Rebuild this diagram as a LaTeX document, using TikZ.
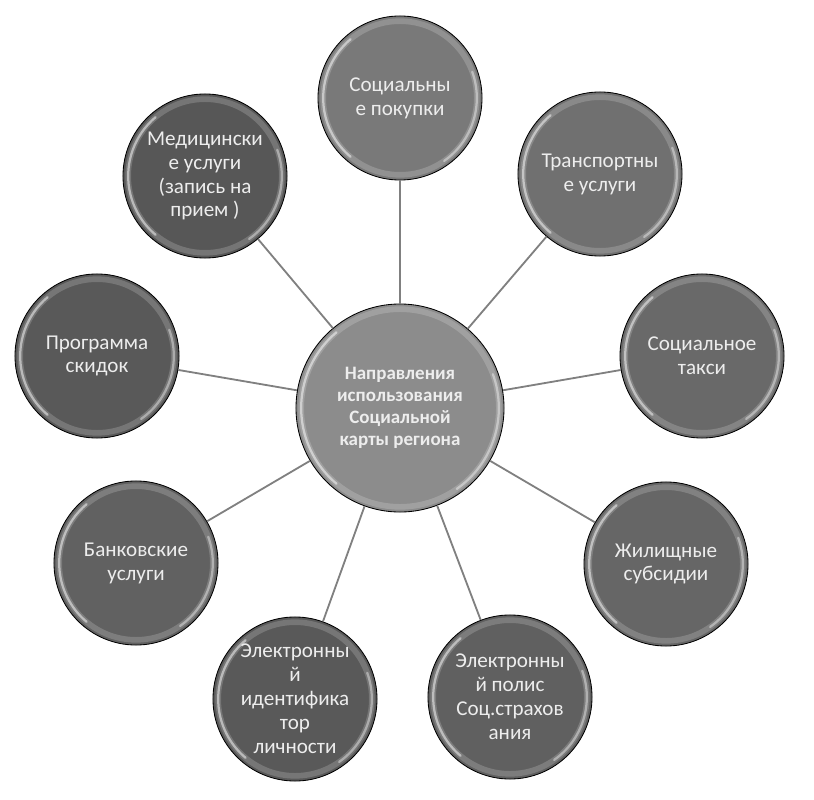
\documentclass[tikz,border=0pt]{standalone}
\usepackage{fontspec}
\setmainfont{Carlito}
\usepackage{tikz}
\usetikzlibrary{calc}

\definecolor{hubgray}{HTML}{8C8C8C}
\definecolor{linkgray}{HTML}{808080}
\definecolor{txtgray}{HTML}{EDEDED}

% блики по краю круга
\newcommand\glint[1]{%
  \draw[white,opacity=.18,line width=4pt] (path picture bounding box.center) circle (#1);
  \draw[white,opacity=.5,line width=1.6pt,line cap=round]
    ([shift={(130:#1)}]path picture bounding box.center) arc[start angle=130,end angle=230,radius=#1];
  \draw[white,opacity=.4,line width=1.6pt,line cap=round]
    ([shift={(-55:#1)}]path picture bounding box.center) arc[start angle=-55,end angle=20,radius=#1];
}

\tikzset{
  leaf/.style={circle, draw=black, line width=0.6pt, fill=#1, minimum size=4.1cm, inner sep=0pt,
    text=txtgray, align=center, font=\fontsize{15}{17}\selectfont,
    path picture={\glint{1.92cm}}},
  hub/.style={circle, draw=black, line width=0.6pt, fill=hubgray, minimum size=5.2cm, inner sep=0pt,
    text=txtgray, align=center, font=\fontsize{13.5}{15.5}\selectfont\bfseries,
    path picture={\glint{2.47cm}}},
  link/.style={draw=linkgray, line width=1.3pt}
}

\begin{document}
\begin{tikzpicture}[x=0.025cm, y=-0.025cm]
    \useasboundingbox (0,0) rectangle (814,800);

    % центр
    \node[hub] (hub) at (400,408) {Направления\\использования\\Социальной\\карты региона};

    % направления вокруг
    \node[leaf={gray!95!black}] (shop) at (400,98) {Социальны\\е покупки};
    \node[leaf={gray!88!black}] (trans) at (600,174) {Транспортны\\е услуги};
    \node[leaf={gray!82!black}] (taxi) at (702,356) {Социальное\\такси};
    \node[leaf={gray!80!black}] (house) at (666,564) {Жилищные\\субсидии};
    \node[leaf={gray!75!black}] (polis) at (510,697) {Электронны\\й полис\\Соц.страхов\\ания};
    \node[leaf={gray!70!black}] (ident) at (295,699) {Электронны\\й\\идентифика\\тор\\личности};
    \node[leaf={gray!76!black}] (bank) at (136,563) {Банковские\\услуги};
    \node[leaf={gray!70!black}] (disc) at (97,356) {Программа\\скидок};
    \node[leaf={gray!68!black}] (med) at (205,176) {Медицински\\е услуги\\(запись на\\прием )};

    % связи
    \foreach \n in {shop,trans,taxi,house,polis,ident,bank,disc,med} {
        \draw[link] (hub) -- (\n);
    }
\end{tikzpicture}
\end{document}
